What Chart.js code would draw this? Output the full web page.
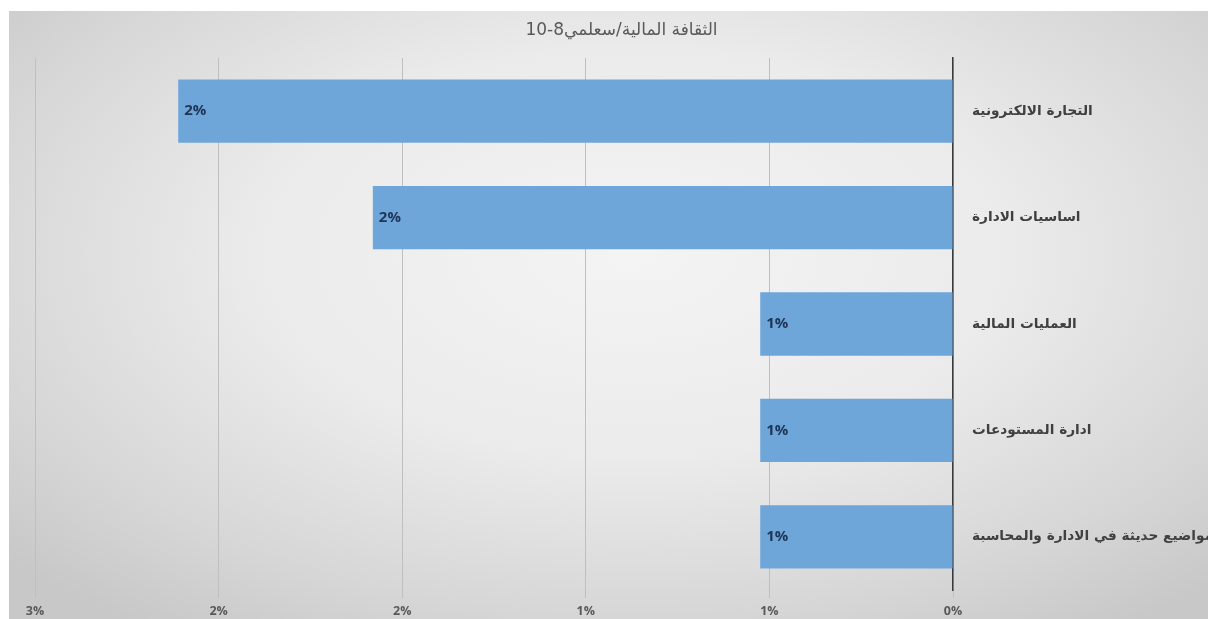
<!DOCTYPE html>
<html lang="ar">
<head>
<meta charset="UTF-8" />
<title>الثقافة المالية</title>
<script src="https://cdn.jsdelivr.net/npm/chart.js"></script>
<style>
    body { margin: 0; background: #fff; }
    #wrap { position: relative; width: 1208px; height: 619px; overflow: hidden; }
    #bg {
        position: absolute; left: 9px; top: 11px; right: 0; bottom: 0;
        background: radial-gradient(ellipse 70% 75% at 52% 40%, #f4f4f4 0%, #ebebeb 45%, #d6d6d6 80%, #c8c8c8 100%);
    }
    #myChart { position: absolute; left: 0; top: 0; direction: rtl; }
</style>
</head>
<body>
<div id="wrap">
    <div id="bg"></div>
    <canvas id="myChart" width="1208" height="619"></canvas>
</div>
<script>
    const titleText = "الثقافة المالية/سعلمي8-10";
    const categories = [
        "التجارة الالكترونية",
        "اساسيات الادارة",
        "العمليات المالية",
        "ادارة المستودعات",
        "مواضيع حديثة في الادارة والمحاسبة",
    ];
    const values = [2.11, 1.58, 0.525, 0.525, 0.525]; // percent
    const xTicks = [0, 0.5, 1, 1.5, 2, 2.5];

    // value labels at the outer end of each bar
    const barLabels = {
        id: "barLabels",
        afterDatasetsDraw(chart) {
            const ctx = chart.ctx;
            ctx.save();
            ctx.font = "bold 15px 'Open Sans'";
            ctx.fillStyle = "#1f3556";
            ctx.textAlign = "left";
            ctx.textBaseline = "middle";
            chart.getDatasetMeta(0).data.forEach((bar, i) => {
                ctx.fillText(Math.round(values[i]) + "%", bar.x + 6, bar.y);
            });
            ctx.restore();
        },
    };

    const ctx = document.getElementById("myChart").getContext("2d");
    new Chart(ctx, {
        type: "bar",
        data: {
            labels: categories,
            datasets: [
                {
                    data: values,
                    backgroundColor: "#6fa6da",
                    borderWidth: 0,
                    categoryPercentage: 1,
                    barPercentage: 0.595,
                },
            ],
        },
        options: {
            indexAxis: "y",
            responsive: false,
            animation: false,
            layout: { padding: { left: 35, top: 0, right: 0, bottom: 0 } },
            plugins: {
                legend: { display: false },
                tooltip: { enabled: false },
                title: {
                    display: true,
                    text: titleText,
                    color: "#595959",
                    font: { family: "'DejaVu Sans'", size: 17, weight: "normal", lineHeight: 1.2 },
                    padding: { top: 20, bottom: 17.6 },
                },
            },
            scales: {
                x: {
                    type: "linear",
                    reverse: true,
                    min: 0,
                    max: 2.5,
                    afterBuildTicks: (scale) => {
                        scale.ticks = xTicks.map((v) => ({ value: v }));
                    },
                    afterFit: (scale) => { scale.height = 29; },
                    ticks: {
                        color: "#595959",
                        font: { family: "'Open Sans'", size: 12.5, weight: "bold" },
                        padding: 6,
                        maxRotation: 0,
                        callback: (v) => Math.round(v) + "%",
                    },
                    grid: { color: "#bfbfbf", lineWidth: 1, tickLength: 8 },
                    border: { display: false },
                },
                y: {
                    position: "right",
                    afterFit: (scale) => {
                        scale.width = 255;
                        scale.paddingTop = 0;
                        scale.paddingBottom = 0;
                    },
                    ticks: {
                        color: "#404040",
                        font: { family: "'DejaVu Sans'", size: 13.7, weight: "bold" },
                        padding: 19,
                    },
                    grid: { display: false, drawTicks: false },
                    border: { display: true, color: "#3a3a3a", width: 1.5 },
                },
            },
        },
        plugins: [barLabels],
    });
</script>
</body>
</html>
